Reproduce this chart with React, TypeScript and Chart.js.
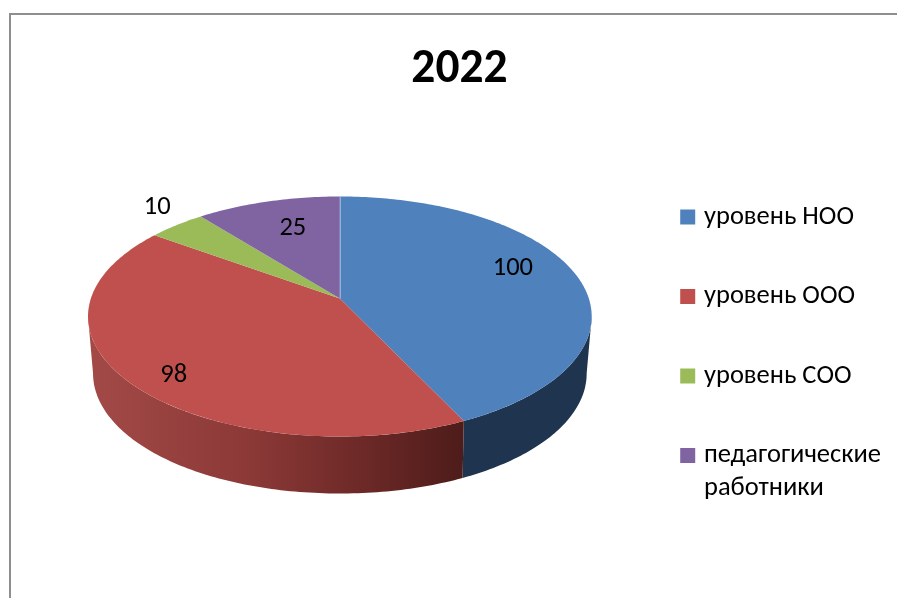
import React, { useEffect, useRef } from "react";
import { Chart, registerables } from "chart.js";

Chart.register(...registerables);

const categories = ["уровень НОО", "уровень ООО", "уровень СОО", ["педагогические", "работники"]];
const values = [100, 98, 10, 25];
const topColors = ["#4f81bd", "#c0504d", "#9bbb59", "#8064a2"];
const titleText = "2022";
const FONT = "Carlito, Calibri, 'Open Sans', 'Noto Sans', sans-serif";

// projection of the round pie onto the tilted disc
const K = 0.15; // perspective
const SQUASH = 117.3 / 249;
const DEPTH_RATIO = 57 / 249;
const LEGEND_SHIFT = { x: -6, y: 91 };
const TITLE_SHIFT = -10;

type Arc = { x: number; y: number; startAngle: number; endAngle: number; outerRadius: number };

function projectUV(a: Arc, u: number, v: number) {
  const R = a.outerRadius;
  const d = 1 - K * v;
  return { x: a.x + (R * u) / d, y: a.y + (R * SQUASH * v) / d };
}
function project(a: Arc, angle: number, r = 1) {
  return projectUV(a, Math.cos(angle) * r, Math.sin(angle) * r);
}

function topPath(ctx: CanvasRenderingContext2D, a: Arc) {
  ctx.beginPath();
  ctx.moveTo(a.x, a.y);
  const n = Math.max(8, Math.ceil((a.endAngle - a.startAngle) * 60));
  for (let i = 0; i <= n; i++) {
    const p = project(a, a.startAngle + ((a.endAngle - a.startAngle) * i) / n);
    ctx.lineTo(p.x, p.y);
  }
  ctx.closePath();
}

const shifter = {
  id: "shifter",
  afterLayout(chart: any) {
    chart.legend.left += LEGEND_SHIFT.x;
    chart.legend.right += LEGEND_SHIFT.x;
    chart.legend.top += LEGEND_SHIFT.y;
    chart.legend.bottom += LEGEND_SHIFT.y;
    chart.titleBlock.left += TITLE_SHIFT;
    chart.titleBlock.right += TITLE_SHIFT;
  },
};

const pie3d = {
  id: "pie3d",
  beforeDatasetsDraw(chart: any) {
    const ctx: CanvasRenderingContext2D = chart.ctx;
    const arcs: Arc[] = chart.getDatasetMeta(0).data;
    ctx.save();
    const first = arcs[0];
    const depth = first.outerRadius * DEPTH_RATIO;
    const L = first.x - first.outerRadius * 1.012;
    const Rt = first.x + first.outerRadius * 1.012;

    const red = ctx.createLinearGradient(L, 0, first.x + first.outerRadius * 0.5, 0);
    red.addColorStop(0, "#a34a47");
    red.addColorStop(0.45, "#8a3836");
    red.addColorStop(0.75, "#6a2826");
    red.addColorStop(1, "#4d1c1a");
    const walls: (string | CanvasGradient)[] = ["#1f344f", red, "#5d7032", "#4d3c62"];

    arcs.forEach((a, i) => {
      const s = Math.max(a.startAngle, Math.asin(K));
      const e = Math.min(a.endAngle, Math.PI - Math.asin(K));
      if (e <= s) return;
      ctx.beginPath();
      const n = Math.ceil((e - s) * 60);
      for (let j = 0; j <= n; j++) {
        const p = project(a, s + ((e - s) * j) / n);
        if (j === 0) ctx.moveTo(p.x, p.y);
        else ctx.lineTo(p.x, p.y);
      }
      for (let j = n; j >= 0; j--) {
        const p = project(a, s + ((e - s) * j) / n);
        const t = Math.abs((p.x - first.x) / (Rt - first.x));
        const inset = 1 - 0.02 * t;
        ctx.lineTo(first.x + (p.x - first.x) * inset, p.y + depth);
      }
      ctx.closePath();
      ctx.fillStyle = walls[i];
      ctx.fill();
    });

    arcs.forEach((a, i) => {
      topPath(ctx, a);
      ctx.fillStyle = topColors[i];
      ctx.fill();
    });

    // pale seam where the first slice starts
    const a0 = arcs[0];
    const tip = project(a0, a0.startAngle);
    ctx.beginPath();
    ctx.moveTo(a0.x + 0.5, a0.y);
    ctx.lineTo(tip.x + 0.5, tip.y);
    ctx.strokeStyle = "rgba(175,200,230,0.8)";
    ctx.lineWidth = 1;
    ctx.stroke();

    // value labels: radius on the disc and angle offset from the slice middle
    const labelPos = [
      { r: 0.778, d: -8.65 },
      { r: 0.847, d: -4.3 },
      { r: 1.227, d: 3.6 },
      { r: 0.707, d: 2.2 },
    ];
    ctx.fillStyle = "#000";
    ctx.font = `26.5px ${FONT}`;
    ctx.textAlign = "center";
    ctx.textBaseline = "middle";
    arcs.forEach((a, i) => {
      const mid = (a.startAngle + a.endAngle) / 2 + (labelPos[i].d * Math.PI) / 180;
      const p = project(a, mid, labelPos[i].r);
      ctx.fillText(String(values[i]), p.x, p.y + 1.5);
    });
    ctx.restore();
    return false;
  },
};

const frame = {
  id: "frame",
  beforeDraw(chart: any) {
    const ctx: CanvasRenderingContext2D = chart.ctx;
    ctx.save();
    ctx.strokeStyle = "#8e8e8e";
    ctx.lineWidth = 2;
    ctx.beginPath();
    ctx.moveTo(10, chart.height);
    ctx.lineTo(10, 14);
    ctx.lineTo(chart.width, 14);
    ctx.stroke();
    ctx.restore();
  },
};

export default function App() {
  const ref = useRef<HTMLCanvasElement>(null);
  useEffect(() => {
    document.body.style.margin = "0";
    const chart = new Chart(ref.current!, {
      type: "pie",
      data: {
        labels: categories as any,
        datasets: [{ data: values, backgroundColor: topColors, borderWidth: 0 }],
      },
      plugins: [frame, shifter, pie3d],
      options: {
        responsive: false,
        animation: false,
        radius: 249,
        layout: { padding: { left: 42, right: 0, top: 39, bottom: 107 } },
        plugins: {
          tooltip: { enabled: false },
          title: {
            display: true,
            text: titleText,
            color: "#000",
            font: { family: FONT, size: 47.5, weight: "bold" },
            padding: { top: 3, bottom: 7 },
          },
          legend: {
            position: "right",
            align: "center",
            labels: {
              color: "#000",
              font: { family: FONT, size: 26.5, lineHeight: 1.25 },
              boxWidth: 6,
              boxHeight: 6,
              padding: 53,
              generateLabels: (c: any) =>
                c.data.labels.map((text: any, i: number) => ({
                  text,
                  fillStyle: topColors[i],
                  strokeStyle: topColors[i],
                  lineWidth: 9,
                  hidden: false,
                  index: i,
                })),
            },
          },
        },
      } as any,
    });
    return () => chart.destroy();
  }, []);
  return (
    <canvas
      ref={ref}
      width={897}
      height={598}
      style={{ display: "block", width: 897, height: 598 }}
    />
  );
}
